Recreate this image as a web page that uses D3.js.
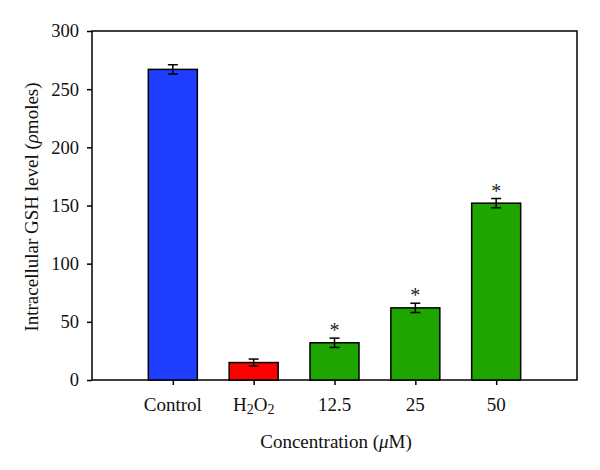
<!DOCTYPE html>
<html><head><meta charset="utf-8">
<script src="https://cdn.jsdelivr.net/npm/d3@7"></script>
<style>body{margin:0;background:#fff}</style>
</head><body>
<svg id="c" width="600" height="470"></svg>
<script>
const categories = ["Control", "H2O2", "12.5", "25", "50"];
const values = [267, 15, 32, 62, 152];
const errors = [4, 3, 4, 4, 4];
const significant = [false, false, true, true, true];
const colors = ["#1f3dff", "#ff0000", "#1ea500", "#1ea500", "#1ea500"];
const yTicks = [0, 50, 100, 150, 200, 250, 300];

const svg = d3.select("#c");
const L = 92, R = 577, T = 31, B = 380;
const font = "'Liberation Serif', 'DejaVu Serif', serif";
const fs = 19;
const x = d3.scaleLinear().domain([0, 6]).range([L, R]);
const y = d3.scaleLinear().domain([0, 300]).range([B, T]);
const bw = 49;

// frame
svg.append("rect").attr("x", L).attr("y", T).attr("width", R - L).attr("height", B - T)
  .attr("fill", "none").attr("stroke", "#000").attr("stroke-width", 1.5);

// y axis
const ya = svg.append("g").attr("transform", `translate(${L},0)`)
  .call(d3.axisLeft(y).tickValues(yTicks).tickSize(5).tickPadding(8));
ya.select(".domain").remove();
ya.selectAll("line").attr("stroke-width", 1.5);
ya.selectAll("text").attr("font-family", font).attr("font-size", 18.5).attr("fill", "#111");

// x axis
const xa = svg.append("g").attr("transform", `translate(0,${B})`)
  .call(d3.axisBottom(x).tickValues(d3.range(1, 6)).tickSize(5).tickFormat(() => ""));
xa.select(".domain").remove();
xa.selectAll("line").attr("stroke-width", 1.5);
xa.selectAll("text").remove();

categories.forEach((c, i) => {
  const t = svg.append("text").attr("x", x(i + 1)).attr("y", 411)
    .attr("text-anchor", "middle").attr("font-family", font).attr("font-size", fs).attr("fill", "#111");
  if (c === "H2O2") {
    t.append("tspan").text("H");
    t.append("tspan").text("2").attr("font-size", 14).attr("dy", 3);
    t.append("tspan").text("O").attr("dy", -3);
    t.append("tspan").text("2").attr("font-size", 14).attr("dy", 3);
  } else t.text(c);
});

// bars
svg.selectAll("rect.bar").data(values).enter().append("rect").attr("class", "bar")
  .attr("x", (d, i) => x(i + 1) - bw / 2).attr("width", bw)
  .attr("y", d => y(d)).attr("height", d => B - y(d))
  .attr("fill", (d, i) => colors[i]).attr("stroke", "#000").attr("stroke-width", 1.5);

// error bars
values.forEach((v, i) => {
  const cx = x(i + 1), e = errors[i];
  const g = svg.append("g").attr("stroke", "#000").attr("stroke-width", 1.5);
  g.append("line").attr("x1", cx).attr("x2", cx).attr("y1", y(v - e)).attr("y2", y(v + e));
  g.append("line").attr("x1", cx - 5).attr("x2", cx + 5).attr("y1", y(v - e)).attr("y2", y(v - e));
  g.append("line").attr("x1", cx - 5).attr("x2", cx + 5).attr("y1", y(v + e)).attr("y2", y(v + e));
  if (significant[i]) {
    svg.append("text").attr("x", cx).attr("y", y(v + e) - 1).attr("text-anchor", "middle")
      .attr("font-family", font).attr("font-size", 20).attr("fill", "#222").text("*");
  }
});

// axis titles
const yt = svg.append("text").attr("transform", `translate(38,207) rotate(-90)`)
  .attr("text-anchor", "middle").attr("font-family", font).attr("font-size", fs).attr("fill", "#111");
yt.append("tspan").text("Intracellular GSH level (");
yt.append("tspan").text("ρ").attr("font-style", "italic");
yt.append("tspan").text("moles)");

const xt = svg.append("text").attr("x", 336).attr("y", 448)
  .attr("text-anchor", "middle").attr("font-family", font).attr("font-size", fs).attr("fill", "#111");
xt.append("tspan").text("Concentration (");
xt.append("tspan").text("μ").attr("font-style", "italic");
xt.append("tspan").text("M)");
</script>
</body></html>
